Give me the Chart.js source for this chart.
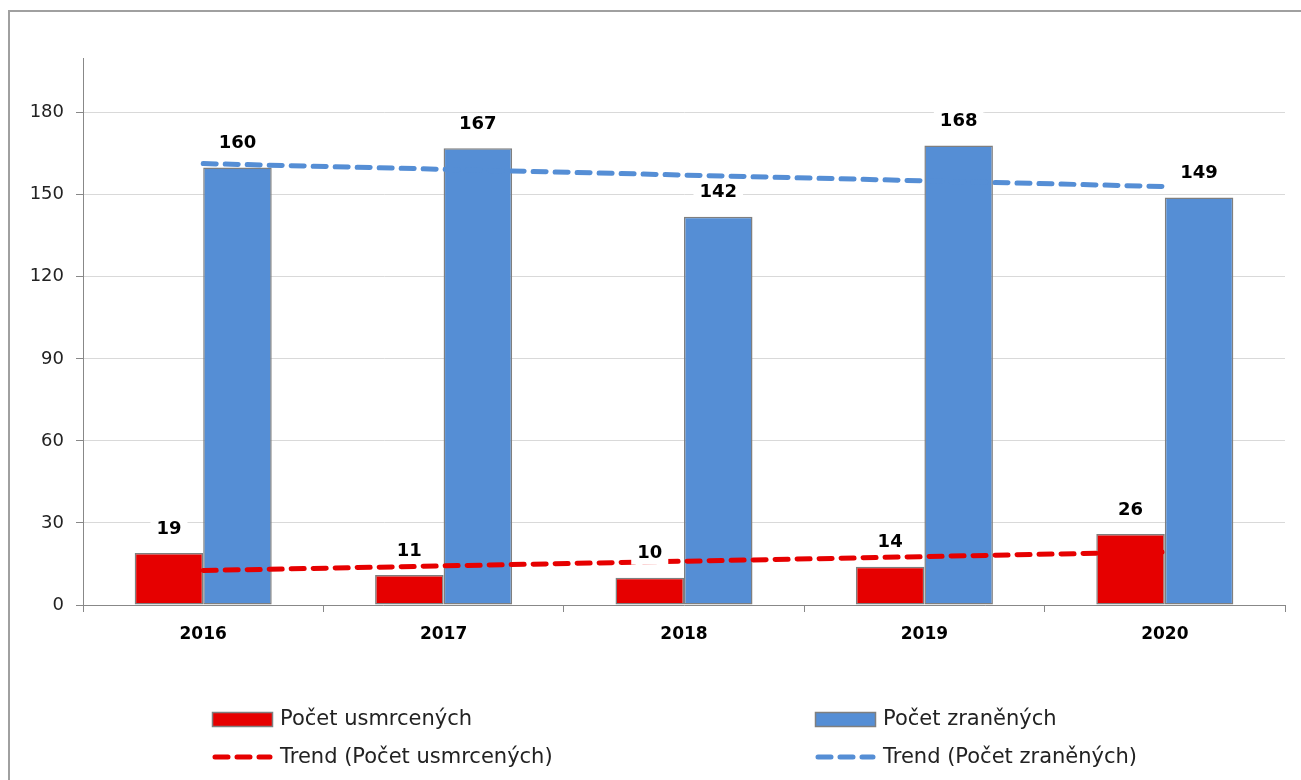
<!DOCTYPE html>
<html>
<head>
<meta charset="utf-8">
<script src="https://cdn.jsdelivr.net/npm/chart.js@4"></script>
<style>
  body { margin: 0; background: #fff; }
  #wrap { width: 1301px; height: 780px; position: relative; }
</style>
</head>
<body>
<div id="wrap"><canvas id="myChart" width="1301" height="780"></canvas></div>
<script>
var years = ['2016', '2017', '2018', '2019', '2020'];
var killed = [19, 11, 10, 14, 26];
var injured = [160, 167, 142, 168, 149];
// trend lines as they appear in the picture
var killedTrend = [12.6, 14.3, 16, 17.7, 19.4];
var injuredTrend = [161.4, 159.3, 157.2, 155.1, 153];

var red = '#e60000';
var blue = '#558ed5';
var font = '"DejaVu Sans", sans-serif';

var frame = {
    id: 'frame',
    beforeDraw: function(chart) {
        var c = chart.ctx;
        c.save();
        c.fillStyle = '#fff';
        c.fillRect(0, 0, chart.width, chart.height);
        c.strokeStyle = '#a0a0a0';
        c.lineWidth = 2;
        c.strokeRect(9, 11, 1300, 780);
        c.restore();
    }
};

var barLabels = {
    id: 'barLabels',
    afterDatasetsDraw: function(chart) {
        var c = chart.ctx;
        c.save();
        c.font = 'bold 18px ' + font;
        c.textAlign = 'center';
        c.textBaseline = 'middle';
        chart.data.datasets.forEach(function(ds, i) {
            if (ds.type === 'line') return;
            chart.getDatasetMeta(i).data.forEach(function(el, j) {
                var txt = String(ds.data[j]);
                var w = c.measureText(txt).width;
                var y = el.y - 24;
                c.fillStyle = '#fff';
                c.fillRect(el.x - w / 2 - 6, y - 11, w + 12, 22);
                c.fillStyle = '#000';
                c.fillText(txt, el.x, y);
            });
        });
        c.restore();
    }
};

var legendBox = {
    id: 'legendBox',
    afterDraw: function(chart) {
        var c = chart.ctx;
        var spots = [[212, 719], [815, 719], [212, 757], [815, 757]];
        c.save();
        c.font = '21px ' + font;
        c.textBaseline = 'middle';
        chart.data.datasets.forEach(function(ds, i) {
            var x = spots[i][0], y = spots[i][1];
            if (ds.type === 'line') {
                c.strokeStyle = ds.borderColor;
                c.lineWidth = 5;
                c.lineCap = 'round';
                c.setLineDash([13, 9]);
                c.beginPath();
                c.moveTo(x + 3, y);
                c.lineTo(x + 58, y);
                c.stroke();
                c.setLineDash([]);
            } else {
                c.fillStyle = ds.backgroundColor;
                c.fillRect(x, y - 7, 60, 14);
                c.strokeStyle = '#7f7f7f';
                c.lineWidth = 1.5;
                c.strokeRect(x + 0.5, y - 6.5, 60, 14);
            }
            c.fillStyle = '#222';
            c.fillText(ds.label, x + 68, y + 1);
        });
        c.restore();
    }
};

var ctx = document.getElementById('myChart');

var myChart = new Chart(ctx, {
    data: {
        labels: years,
        datasets: [
            {
                type: 'bar',
                label: 'Počet usmrcených',
                data: killed,
                backgroundColor: red,
                borderColor: '#7f7f7f',
                borderWidth: 1.5,
                borderSkipped: false,
                categoryPercentage: 0.57,
                barPercentage: 1,
                order: 2
            },
            {
                type: 'bar',
                label: 'Počet zraněných',
                data: injured,
                backgroundColor: blue,
                borderColor: '#7f7f7f',
                borderWidth: 1.5,
                borderSkipped: false,
                categoryPercentage: 0.57,
                barPercentage: 1,
                order: 2
            },
            {
                type: 'line',
                label: 'Trend (Počet usmrcených)',
                data: killedTrend,
                borderColor: red,
                borderWidth: 5,
                borderDash: [13, 9],
                borderCapStyle: 'round',
                pointRadius: 0,
                fill: false,
                order: 1
            },
            {
                type: 'line',
                label: 'Trend (Počet zraněných)',
                data: injuredTrend,
                borderColor: blue,
                borderWidth: 5,
                borderDash: [13, 9],
                borderCapStyle: 'round',
                pointRadius: 0,
                fill: false,
                order: 1
            }
        ]
    },
    options: {
        responsive: false,
        animation: false,
        layout: { padding: { left: 0, top: 58, right: 16, bottom: 125 } },
        plugins: {
            legend: { display: false },
            tooltip: { enabled: false }
        },
        scales: {
            x: {
                offset: true,
                grid: {
                    offset: true,
                    drawOnChartArea: false,
                    color: '#888',
                    tickLength: 7
                },
                border: { color: '#888' },
                ticks: {
                    color: '#000',
                    padding: 12,
                    font: { family: font, size: 17, weight: 'bold' }
                },
                afterFit: function(scale) { scale.height = 50; }
            },
            y: {
                min: 0,
                max: 200,
                grid: {
                    color: '#d9d9d9',
                    tickLength: 7,
                    tickColor: '#888'
                },
                border: { color: '#888' },
                ticks: {
                    stepSize: 30,
                    includeBounds: false,
                    color: '#222',
                    padding: 12,
                    font: { family: font, size: 18 }
                },
                afterFit: function(scale) { scale.width = 83; }
            }
        }
    },
    plugins: [frame, barLabels, legendBox]
});
</script>
</body>
</html>
